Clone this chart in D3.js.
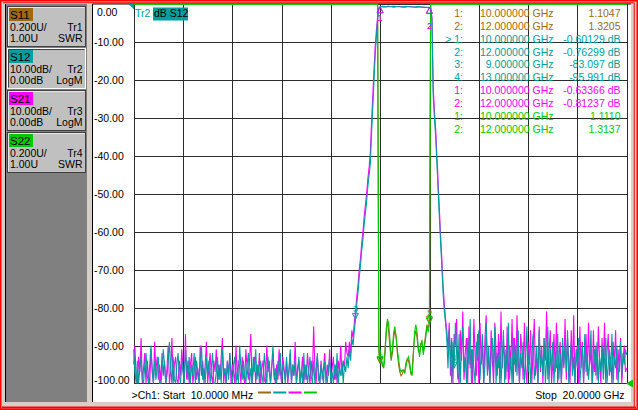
<!DOCTYPE html>
<html>
<head>
<meta charset="utf-8">
<title>VNA S-parameters</title>
<script src="https://cdn.jsdelivr.net/npm/d3@7/dist/d3.min.js"></script>
<style>
  body { margin: 0; background: #fff; }
  svg { display: block; font-family: "Liberation Sans", Arial, sans-serif; font-size: 10.5px; }
  text { white-space: pre; }
</style>
</head>
<body>
<svg id="vna" width="638" height="410"></svg>
<script>
// sweep setup (GHz)
var sweepStart = 0.01
var sweepStop = 20
var sweepPoints = 401

// graticule for the dB traces
var dbTicks = [0, -10, -20, -30, -40, -50, -60, -70, -80, -90, -100]

// Tr2 S12, dB, one value per sweep point
var s12Db = [
  // noise floor below the passband
  -91, -97, -100, -94, -102, -96, -93, -99, -104, -95,
  -92, -98, -101, -95, -90, -97, -103, -94, -99, -96,
  -93, -100, -105, -97, -91, -95, -102, -98, -94, -89,
  -96, -101, -93, -99, -104, -95, -92, -98, -100, -94,
  -97, -103, -91, -96, -99, -93, -106, -95, -98, -92,
  -100, -94, -97, -102, -95, -90, -99, -96, -103, -93,
  -98, -94, -101, -96, -92, -100, -105, -97, -93, -99,
  -95, -102, -91, -98, -96, -104, -94, -99, -92, -97,
  -101, -95, -93, -100, -97, -103, -90, -96, -99, -94,
  -98, -102, -95, -92, -100, -96, -104, -93, -97, -91,
  -99, -95, -101, -94, -98, -106, -92, -96, -100, -93,
  -97, -103, -95, -90, -99, -96, -102, -94, -98, -92,
  -100, -95, -97, -104, -93, -99, -96, -91, -101, -95,
  -98, -94, -102, -97, -93, -100, -96, -105, -92, -99,
  -95, -101, -97, -93, -98, -103, -94, -100, -96, -92,
  -99, -104, -95, -97, -101, -94, -98, -102, -96, -93,
  -100, -97, -103, -95, -99, -92, -101, -96, -98, -94,
  -100, -95, -97, -93,
  // lower skirt
  -96, -91, -94, -88, -90, -86, -83.097, -79, -76, -72,
  -69, -65, -62, -58, -55, -52, -48, -45, -42, -34,
  -27, -20, -13, -8, -3.5, -1.0, -0.60129,
  // passband
  -0.56, -0.53, -0.52, -0.55, -0.58, -0.62, -0.63, -0.60, -0.56, -0.52,
  -0.50, -0.52, -0.54, -0.58, -0.61, -0.64, -0.66, -0.63, -0.59, -0.56,
  -0.53, -0.55, -0.57, -0.61, -0.64, -0.67, -0.69, -0.66, -0.62, -0.59,
  -0.58, -0.61, -0.65, -0.68, -0.71, -0.73, -0.74, -0.75, -0.76, -0.76299,
  // upper skirt
  -1.2, -4, -24, -30, -35, -42, -49, -56, -63, -69,
  -76, -81, -84, -88, -96, -86, -92, -101, -89, -95.991,
  // noise floor above the passband
  -84, -92, -99, -87, -103, -90, -85, -97, -93, -101,
  -88, -95, -83, -100, -91, -96, -105, -89, -94, -86,
  -99, -92, -87, -102, -95, -84, -98, -90, -104, -93,
  -88, -97, -85, -100, -92, -96, -89, -103, -94, -86,
  -101, -91, -97, -84, -99, -93, -106, -88, -95, -90,
  -98, -86, -102, -92, -96, -89, -100, -94, -85, -97,
  -91, -104, -93, -87, -99, -95, -90, -101, -86, -96,
  -92, -98, -88, -103, -94, -85, -100, -91, -97, -89,
  -105, -93, -96, -87, -99, -92, -102, -88, -95, -90,
  -97, -86, -101, -94, -89, -98, -93, -104, -91, -96,
  -88, -100, -95, -90, -103, -87, -97, -92, -99, -94,
  -86, -101, -96, -91, -98, -89, -105, -93, -97, -90,
  -99, -94, -88, -102, -95, -91, -97, -87, -100, -93,
  -96, -90, -103, -94, -89, -98, -92, -95, -91, -92.5
]

// Tr3 S21, dB
var s21Db = [
  -95, -90, -99, -103, -93, -97, -88, -101, -96, -92,
  -100, -94, -98, -105, -91, -96, -102, -89, -97, -93,
  -99, -95, -104, -92, -98, -94, -100, -96, -90, -103,
  -97, -88, -101, -95, -93, -99, -106, -94, -98, -91,
  -96, -102, -87, -99, -94, -100, -95, -92, -104, -97,
  -93, -99, -96, -101, -90, -98, -94, -103, -95, -89,
  -100, -96, -92, -98, -105, -94, -97, -91, -102, -95,
  -99, -93, -88, -100, -96, -103, -94, -98, -92, -101,
  -95, -97, -104, -90, -99, -94, -96, -101, -93, -98,
  -102, -91, -96, -99, -94, -87, -100, -97, -93, -105,
  -95, -98, -92, -101, -96, -94, -99, -103, -90, -97,
  -94, -100, -96, -92, -98, -104, -95, -99, -91, -97,
  -101, -93, -96, -99, -94, -102, -97, -92, -100, -95,
  -98, -89, -103, -96, -94, -100, -97, -93, -101, -95,
  -99, -92, -97, -104, -94, -98, -85, -96, -100, -93,
  -97, -101, -94, -99, -96, -92, -103, -95, -98, -91,
  -100, -96, -93, -99, -95, -102, -94, -97, -90, -98,
  -94, -96, -89, -92,
  -93, -89, -92, -86, -88, -84, -81, -77, -74, -70,
  -67, -63, -60, -56, -53, -50, -46, -43, -39, -31,
  -24, -17, -11, -6.5, -2.8, -0.9, -0.63366,
  -0.62, -0.66, -0.70, -0.65, -0.58, -0.53, -0.50, -0.55, -0.61, -0.67,
  -0.71, -0.68, -0.62, -0.56, -0.52, -0.55, -0.60, -0.66, -0.71, -0.74,
  -0.69, -0.63, -0.58, -0.55, -0.59, -0.64, -0.69, -0.73, -0.76, -0.72,
  -0.67, -0.64, -0.68, -0.72, -0.76, -0.79, -0.80, -0.81, -0.81, -0.81237,
  -1.0, -3.5, -22, -28, -33, -40, -47, -54, -61, -67,
  -74, -79, -83, -86, -91, -84, -98, -88, -103, -87,
  -90, -83, -97, -102, -86, -94, -81, -99, -92, -88,
  -104, -85, -96, -91, -100, -83, -93, -98, -87, -102,
  -84, -95, -90, -106, -88, -82, -97, -93, -100, -86,
  -94, -101, -84, -91, -98, -87, -103, -81, -96, -89,
  -93, -99, -85, -102, -90, -95, -83, -100, -88, -97,
  -82, -94, -105, -87, -92, -99, -84, -96, -101, -89,
  -95, -86, -100, -91, -83, -98, -93, -104, -85, -97,
  -90, -102, -88, -94, -81, -99, -92, -86, -103, -95,
  -87, -97, -84, -100, -93, -89, -106, -91, -96, -83,
  -99, -88, -94, -102, -86, -97, -82, -100, -92, -90,
  -104, -85, -96, -89, -101, -93, -87, -98, -84, -95,
  -91, -103, -86, -97, -90, -99, -85, -94, -102, -88,
  -96, -84, -100, -92, -87, -98, -93, -105, -89, -95,
  -86, -99, -91, -97, -88, -101, -94, -90, -97, -96
]

// Tr1 S11 / Tr4 S22, SWR; out of band the SWR is far above the top of the screen
var swrFreq = [
  0.01, 9.90, 9.95, 10.00, 10.05, 10.10, 10.15, 10.20, 10.25, 10.30, 10.35,
  10.40, 10.45, 10.50, 10.55, 10.60, 10.65, 10.70, 10.75, 10.80, 10.85,
  10.90, 10.95, 11.00, 11.05, 11.10, 11.15, 11.20, 11.25, 11.30, 11.35,
  11.40, 11.45, 11.50, 11.55, 11.60, 11.65, 11.70, 11.75, 11.80, 11.85,
  11.90, 11.95, 12.00, 12.05, 20
]
var s11Swr = [
  30, 30, 1.17, 1.1047, 1.12, 1.09, 1.10, 1.18, 1.29, 1.33, 1.27,
  1.19, 1.12, 1.16, 1.24, 1.28, 1.25, 1.16, 1.10, 1.06, 1.04,
  1.05, 1.07, 1.06, 1.11, 1.13, 1.12, 1.09, 1.05, 1.06, 1.17,
  1.25, 1.28, 1.24, 1.17, 1.16, 1.21, 1.21, 1.17, 1.21, 1.26,
  1.31, 1.29, 1.3205, 30, 30
]
var s22Swr = [
  30, 30, 1.19, 1.111, 1.13, 1.10, 1.08, 1.15, 1.26, 1.34, 1.31,
  1.23, 1.13, 1.18, 1.27, 1.30, 1.24, 1.18, 1.13, 1.08, 1.06,
  1.07, 1.065, 1.055, 1.09, 1.12, 1.14, 1.11, 1.06, 1.04, 1.15,
  1.27, 1.31, 1.27, 1.19, 1.14, 1.20, 1.23, 1.15, 1.19, 1.24,
  1.30, 1.27, 1.3137, 30, 30
]

// channel buttons
var chanParam = ['S11', 'S12', 'S21', 'S22']
var chanScale = ['0.200U/', '10.00dB/', '10.00dB/', '0.200U/']
var chanRef = ['1.00U', '0.00dB', '0.00dB', '1.00U']
var chanTrace = ['Tr1', 'Tr2', 'Tr3', 'Tr4']
var chanFormat = ['SWR', 'LogM', 'LogM', 'SWR']

// markers
var markerParam = ['S11', 'S11', 'S12', 'S12', 'S12', 'S12', 'S21', 'S21', 'S22', 'S22']
var markerNum = [1, 2, 1, 2, 3, 4, 1, 2, 1, 2]
var markerFreq = [10, 12, 10, 12, 9, 13, 10, 12, 10, 12]
var markerValue = [1.1047, 1.3205, -0.60129, -0.76299, -83.097, -95.991, -0.63366, -0.81237, 1.1110, 1.3137]
var activeMarker = 2

var W = 638, H = 410
var gl = { left: 133.7, right: 626.7, top: 4.4, bottom: 383.4 }
var traceColor = { S11: '#9c6a14', S12: '#009e9e', S21: '#ff00ff', S22: '#00c800' }
var gridColor = '#2b2b2b'

var fmt = d3.formatLocale({ decimal: '.', thousands: ',', grouping: [3], currency: ['', ''], minus: '-' })
var isSwr = p => p === 'S11' || p === 'S22'

var x = d3.scaleLinear().domain([sweepStart, sweepStop]).range([gl.left, gl.right])
var yDb = d3.scaleLinear().domain([-100, 0]).range([gl.bottom, gl.top]).clamp(true)
// ref 1.00U at the bottom line, 0.200U per division
var ySwr = d3.scaleLinear().domain([1, 3]).range([gl.bottom, gl.top]).clamp(true)

var sweepFreq = d3.range(sweepPoints).map(i => sweepStart + i * (sweepStop - sweepStart) / (sweepPoints - 1))

var svg = d3.select('#vna')

// window
svg.append('rect').attr('width', W).attr('height', H).attr('fill', '#d4d0c8')
svg.append('rect').attr('x', 92).attr('y', 4).attr('width', 539).attr('height', 398).attr('fill', '#fff')
svg.append('path').attr('d', 'M92.5,402V4H631').attr('fill', 'none').attr('stroke', '#000')
svg.append('rect').attr('x', 5).attr('y', 4).attr('width', 82).attr('height', 398).attr('fill', '#808080')
svg.append('line').attr('x1', 5.5).attr('x2', 5.5).attr('y1', 4).attr('y2', 402).attr('stroke', '#000')
svg.append('rect').attr('x', 0.75).attr('y', 0.75).attr('width', 636.5).attr('height', 408.5)
  .attr('fill', 'none').attr('stroke', '#ff0000').attr('stroke-width', 1.5)
svg.append('path').attr('d', 'M3,2.75H634.25V407').attr('fill', 'none').attr('stroke', '#ff0000')
svg.append('line').attr('x1', 2).attr('x2', 636).attr('y1', 407.5).attr('y2', 407.5).attr('stroke', '#ff0000').attr('stroke-width', 2)

// channel buttons
var btn = svg.append('g').selectAll('g').data(chanParam).join('g')
  .attr('transform', (d, i) => 'translate(7,' + (6 + i * 42) + ')')
btn.append('rect').attr('x', 0.5).attr('y', 0.5).attr('width', 78).attr('height', 40)
  .attr('fill', '#c0c0c0').attr('stroke', (d, i) => i === 1 ? '#ffffff' : '#404040')
btn.append('path').attr('d', 'M1.5,39.5V1.5H77.5')
  .attr('fill', 'none').attr('stroke', (d, i) => i === 1 ? '#404040' : '#e8e8e8')
btn.append('rect').attr('x', 2).attr('y', 2).attr('width', 24).attr('height', 13)
  .attr('fill', d => traceColor[d])
btn.append('text').attr('x', 3).attr('y', 13).style('font-size', '11.5px').text(d => d)
btn.append('text').attr('x', 3).attr('y', 25.2).text((d, i) => chanScale[i])
btn.append('text').attr('x', 75.5).attr('y', 25.2).attr('text-anchor', 'end').text((d, i) => chanTrace[i])
btn.append('text').attr('x', 3).attr('y', 35.8).text((d, i) => chanRef[i])
btn.append('text').attr('x', 75.5).attr('y', 35.8).attr('text-anchor', 'end').text((d, i) => chanFormat[i])

// graticule
var div = d3.range(11).map(k => sweepStart + k * (sweepStop - sweepStart) / 10)
var grid = svg.append('g').attr('stroke', gridColor).attr('shape-rendering', 'crispEdges')
grid.selectAll('.gv').data(div).join('line').attr('class', 'gv')
  .attr('x1', d => Math.round(x(d)) + 0.5).attr('x2', d => Math.round(x(d)) + 0.5)
  .attr('y1', gl.top).attr('y2', gl.bottom)
grid.selectAll('.gh').data(dbTicks).join('line').attr('class', 'gh')
  .attr('x1', gl.left).attr('x2', gl.right)
  .attr('y1', d => Math.round(yDb(d)) + 0.5).attr('y2', d => Math.round(yDb(d)) + 0.5)

svg.append('g').selectAll('text').data(dbTicks).join('text')
  .attr('x', d => d < 0 ? 94 : 97)
  .attr('y', (d, i) => i === 0 ? yDb(d) + 12 : i === dbTicks.length - 1 ? yDb(d) + 0.8 : yDb(d) + 4)
  .attr('fill', '#000')
  .text(d => fmt.format('.2f')(d))

// traces
var lineDb = d3.line().x(d => x(d[0])).y(d => yDb(d[1]))
var lineSwr = d3.line().x(d => x(d[0])).y(d => ySwr(d[1]))
var traces = svg.append('g').attr('fill', 'none').attr('stroke-width', 1.1)
traces.append('path').attr('d', lineSwr(d3.zip(swrFreq, s11Swr))).attr('stroke', traceColor.S11)
traces.append('path').attr('d', lineSwr(d3.zip(swrFreq, s22Swr))).attr('stroke', traceColor.S22)
traces.append('path').attr('d', lineDb(d3.zip(sweepFreq, s21Db))).attr('stroke', traceColor.S21)
traces.append('path').attr('d', lineDb(d3.zip(sweepFreq, s12Db))).attr('stroke', traceColor.S12)

// marker flags on the traces
var mk = svg.append('g').selectAll('g').data(markerParam).join('g')
  .attr('transform', (p, i) => 'translate(' + x(markerFreq[i]) + ',' +
    (isSwr(p) ? ySwr(markerValue[i]) : yDb(markerValue[i])) + ')')
  .attr('stroke', p => traceColor[p]).attr('fill', p => traceColor[p])
mk.append('path')
  .attr('d', (p, i) => (isSwr(p) ? ySwr(markerValue[i]) : yDb(markerValue[i])) < 20 ? 'M0,0L-3,6H3Z' : 'M0,0L-3,-6H3Z')
  .attr('fill', 'none')
mk.append('text').attr('stroke', 'none').attr('text-anchor', 'middle').style('font-size', '9px')
  .attr('y', (p, i) => (isSwr(p) ? ySwr(markerValue[i]) : yDb(markerValue[i])) < 20 ? 14 + (markerNum[i] - 1) * 8 : -7)
  .text((p, i) => markerNum[i])

// reference position arrows
svg.append('path').attr('d', 'M128.5,4H134V9.5Z').attr('fill', traceColor.S12)
svg.append('path').attr('d', 'M626,' + gl.bottom + 'L633,' + (gl.bottom - 4) + 'V' + (gl.bottom + 4) + 'Z').attr('fill', traceColor.S22)

// active trace title
svg.append('text').attr('x', 135).attr('y', 17.4).attr('fill', traceColor.S12).text('Tr2')
svg.append('rect').attr('x', 153).attr('y', 7.5).attr('width', 35).attr('height', 13).attr('fill', traceColor.S12)
svg.append('text').attr('x', 154).attr('y', 17.4).attr('fill', '#000').text('dB S12')

// marker table
var tbl = svg.append('g').selectAll('g').data(markerParam).join('g')
  .attr('fill', p => traceColor[p])
  .attr('transform', (p, i) => 'translate(0,' + (16.8 + i * 12.9) + ')')
tbl.append('text').attr('x', 463).attr('text-anchor', 'end')
  .text((p, i) => (i === activeMarker ? '> ' : '') + markerNum[i] + ':')
tbl.append('text').attr('x', 553.5).attr('text-anchor', 'end')
  .text((p, i) => fmt.format('.6f')(markerFreq[i]) + ' GHz')
tbl.append('text').attr('x', 620.5).attr('text-anchor', 'end')
  .text((p, i) => fmt.format('.5r')(markerValue[i]) + (isSwr(p) ? '' : ' dB'))

// channel footer
svg.append('text').attr('x', 131.5).attr('y', 398.5).attr('fill', '#000')
  .text('>Ch1: Start  ' + fmt.format('.4f')(sweepStart * 1000) + ' MHz')
svg.append('g').selectAll('line').data(chanParam).join('line')
  .attr('x1', (d, i) => 258 + i * 15.3).attr('x2', (d, i) => 271 + i * 15.3)
  .attr('y1', 392.5).attr('y2', 392.5)
  .attr('stroke', d => traceColor[d]).attr('stroke-width', 2)
svg.append('text').attr('x', 624.5).attr('y', 398.5).attr('text-anchor', 'end').attr('fill', '#000')
  .text('Stop  ' + fmt.format('.4f')(sweepStop) + ' GHz')
</script>
</body>
</html>
